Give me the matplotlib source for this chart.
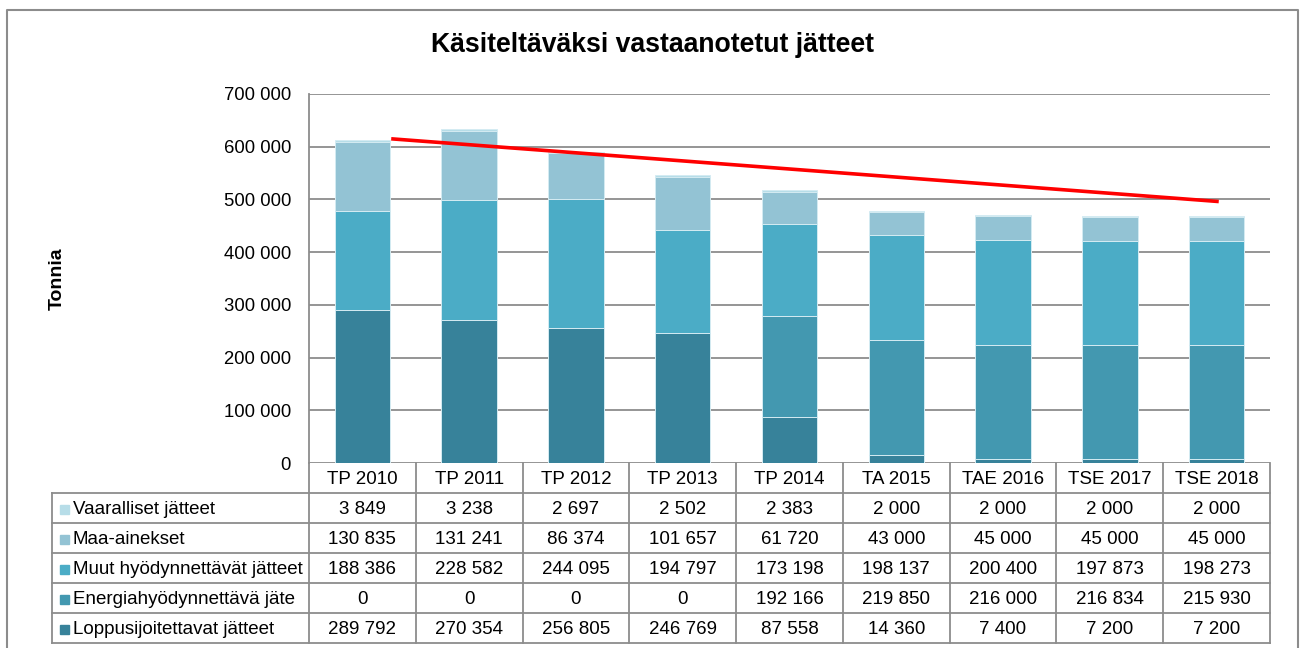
import numpy as np
import matplotlib.pyplot as plt
from matplotlib.lines import Line2D
from matplotlib.patches import Rectangle

plt.rcParams['font.family'] = ['Liberation Sans', 'DejaVu Sans']

# Tiedot
vuodet = ['TP 2010', 'TP 2011', 'TP 2012', 'TP 2013', 'TP 2014',
          'TA 2015', 'TAE 2016', 'TSE 2017', 'TSE 2018']
loppusijoitettavat = [289792, 270354, 256805, 246769, 87558, 14360, 7400, 7200, 7200]
energia = [0, 0, 0, 0, 192166, 219850, 216000, 216834, 215930]
muut = [188386, 228582, 244095, 194797, 173198, 198137, 200400, 197873, 198273]
maa = [130835, 131241, 86374, 101657, 61720, 43000, 45000, 45000, 45000]
vaaralliset = [3849, 3238, 2697, 2502, 2383, 2000, 2000, 2000, 2000]

# punainen viiva (käsin piirretty trendi)
trend_x = [0.27, 8.02]
trend_y = [615000, 496000]

sarjat = [
    ('Loppusijoitettavat jätteet', loppusijoitettavat, '#37829a'),
    ('Energiahyödynnettävä jäte', energia, '#4398b0'),
    ('Muut hyödynnettävät jätteet', muut, '#4bacc6'),
    ('Maa-ainekset', maa, '#93c3d4'),
    ('Vaaralliset jätteet', vaaralliset, '#b7dde8'),
]

W, H = 1301, 648
fig = plt.figure(figsize=(W / 100, H / 100), dpi=100)

def fx(px):
    return px / W

def fy(py):
    return 1 - py / H

ax_l, ax_r, ax_t, ax_b = 309, 1270, 94, 463
ax = fig.add_axes([fx(ax_l), fy(ax_b), fx(ax_r - ax_l), (ax_b - ax_t) / H])

x = np.arange(len(vuodet))
pohja = np.zeros(len(vuodet))
for nimi, arvot, vari in sarjat:
    ax.bar(x, arvot, 0.52, bottom=pohja, color=vari, edgecolor='#d4ebf2',
           linewidth=0.7, zorder=3)
    pohja += np.array(arvot)

ax.plot(trend_x, trend_y, color='#ff0000', lw=2.6, zorder=4, solid_capstyle='butt')

ax.set_xlim(-0.5, len(vuodet) - 0.5)
ax.set_ylim(0, 700000)
ax.set_yticks(range(0, 700001, 100000))
ax.set_yticklabels([f'{v:,}'.replace(',', ' ') for v in range(0, 700001, 100000)], fontsize=13.3)
ax.tick_params(axis='y', length=0, pad=13)
ax.set_xticks([])
ax.grid(axis='y', color='#8c8c8c', lw=1.3, zorder=1)
for s in ['top', 'right', 'bottom']:
    ax.spines[s].set_visible(False)
ax.spines['left'].set_color('#8c8c8c')
ax.spines['left'].set_linewidth(1.3)

ax.set_ylabel('Tonnia', fontsize=14, fontweight='bold', labelpad=0)
ax.yaxis.set_label_coords(-(309 - 66) / (ax_r - ax_l), 0.5)

fig.text(fx(652), fy(45), 'Käsiteltäväksi vastaanotetut jätteet', fontsize=19.2,
         fontweight='bold', ha='center', va='center')

# Taulukko
lc = '#8c8c8c'
fs = 13.5
cw = (ax_r - ax_l) / len(vuodet)
tab_l = 52
head_t, head_b = 463, 493
row_h = 30
rivit = sarjat[::-1]
n_rows = len(rivit)
tab_b = head_b + n_rows * row_h

def viiva(x0, y0, x1, y1):
    fig.add_artist(Line2D([fx(x0), fx(x1)], [fy(y0), fy(y1)], color=lc, lw=1.3))

# pystyviivat
for k in range(len(vuodet) + 1):
    viiva(ax_l + k * cw, head_t, ax_l + k * cw, tab_b)
viiva(tab_l, head_b, tab_l, tab_b)
# vaakaviivat
for r in range(n_rows + 1):
    viiva(tab_l, head_b + r * row_h, ax_r, head_b + r * row_h)

for k, v in enumerate(vuodet):
    fig.text(fx(ax_l + (k + 0.5) * cw), fy((head_t + head_b) / 2 + 1), v,
             fontsize=fs, ha='center', va='center')

for r, (nimi, arvot, vari) in enumerate(rivit):
    yc = head_b + (r + 0.5) * row_h + 1
    fig.add_artist(Rectangle((fx(60), fy(yc + 4.5)), fx(9), 9 / H, color=vari))
    fig.text(fx(73), fy(yc), nimi, fontsize=fs, ha='left', va='center')
    for k, v in enumerate(arvot):
        fig.text(fx(ax_l + (k + 0.5) * cw), fy(yc), f'{v:,}'.replace(',', ' '),
                 fontsize=fs, ha='center', va='center')

# ulkokehys
fig.add_artist(Line2D([fx(7), fx(7), fx(1298), fx(1298)],
                      [0, fy(10), fy(10), 0], color='#8c8c8c', lw=1.5))

fig.savefig('out.png', dpi=100)
